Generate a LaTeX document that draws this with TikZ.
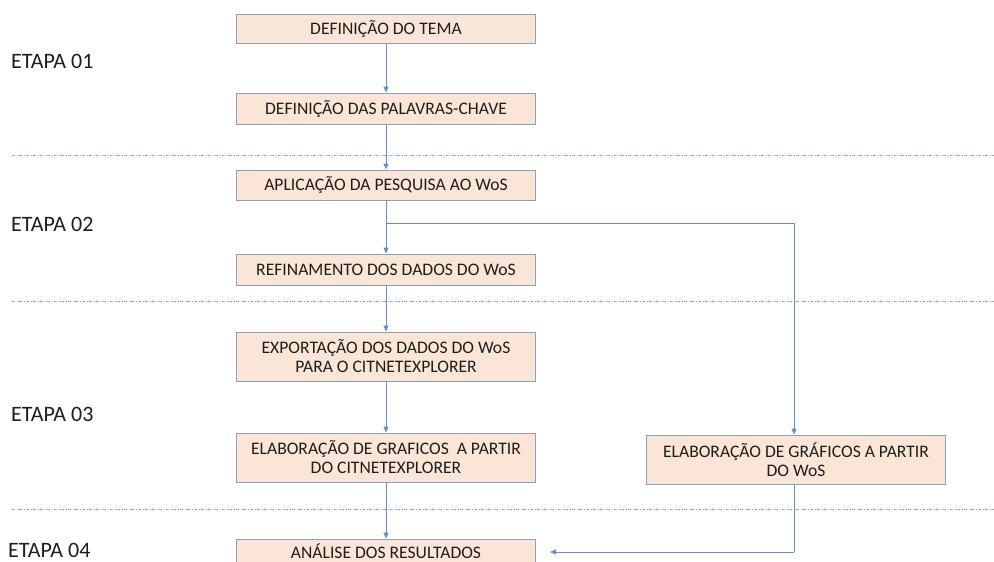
\documentclass[tikz,border=0pt]{standalone}
\usepackage{fontspec}
\setmainfont{Carlito}
\usetikzlibrary{arrows.meta}
\definecolor{boxfill}{RGB}{251,229,214}
\definecolor{boxline}{RGB}{140,160,185}
\definecolor{arrowcol}{RGB}{96,145,200}
\definecolor{sepcol}{RGB}{140,170,205}
\definecolor{txt}{RGB}{30,30,30}
\begin{document}
\begin{tikzpicture}[x=1pt,y=-1pt,
  stepbox/.style={draw=boxline, line width=0.9pt, fill=boxfill, minimum width=299pt,
    align=center, inner sep=2pt, font=\fontsize{17.6}{19}\selectfont, text=txt},
  flow/.style={draw=arrowcol, line width=0.9pt, -{Triangle[length=6pt,width=5pt]}},
  link/.style={draw=arrowcol, line width=0.9pt},
  sep/.style={draw=sepcol, line width=0.6pt, dash pattern=on 3pt off 1.5pt on 1pt off 1.5pt},
  stage/.style={anchor=west, font=\fontsize{22}{24}\selectfont, text=txt, inner sep=0pt}]
\useasboundingbox (0,0) rectangle (994,562);
\begin{scope}
\clip (0,0) rectangle (994,562);
% separators
\coordinate (s1a) at (12,155); \coordinate (s1b) at (994,155);
\coordinate (s2a) at (12,301); \coordinate (s2b) at (994,301);
\coordinate (s3a) at (12,509); \coordinate (s3b) at (994,509);
\draw[sep] (s1a) -- (s1b);
\draw[sep] (s2a) -- (s2b);
\draw[sep] (s3a) -- (s3b);
% stage labels
\node[stage] (e1) at (11,61) {ETAPA 01};
\node[stage] (e2) at (11,224) {ETAPA 02};
\node[stage] (e3) at (11,414) {ETAPA 03};
\node[stage] (e4) at (8,550) {ETAPA 04};
% boxes
\node[stepbox, minimum height=29pt] (b1) at (386,29) {DEFINIÇÃO DO TEMA};
\node[stepbox, minimum height=31pt] (b2) at (386,108.5) {DEFINIÇÃO DAS PALAVRAS-CHAVE};
\node[stepbox, minimum height=30pt] (b3) at (386,185) {APLICAÇÃO DA PESQUISA AO WoS};
\node[stepbox, minimum height=31pt] (b4) at (386,269.5) {REFINAMENTO DOS DADOS DO WoS};
\node[stepbox, minimum height=49pt] (b5) at (386,356.5) {EXPORTAÇÃO DOS DADOS DO WoS\\PARA O CITNETEXPLORER};
\node[stepbox, minimum height=49pt] (b6) at (386,457.5) {ELABORAÇÃO DE GRAFICOS \ A PARTIR\\DO CITNETEXPLORER};
\node[stepbox, minimum height=24pt] (b7) at (386,551) {ANÁLISE DOS RESULTADOS};
\node[stepbox, minimum height=49pt] (r1) at (796,459.5) {ELABORAÇÃO DE GRÁFICOS A PARTIR\\DO WoS};
% connectors
\draw[flow] (b1) -- (b2);
\draw[flow] (b2) -- (b3);
\draw[flow] (b3) -- (b4);
\draw[flow] (b4) -- (b5);
\draw[flow] (b5) -- (b6);
\draw[flow] (b6) -- (b7);
\coordinate (br) at (386,223);
\coordinate (rt) at (794,223);
\draw[flow] (br) -- (rt) -- (rt |- r1.north);
\coordinate (rb) at (794,552);
\coordinate (endp) at (550,552);
\draw[link] (rb |- r1.south) -- (rb);
\draw[flow] (rb) -- (endp);
\end{scope}
\end{tikzpicture}
\end{document}
